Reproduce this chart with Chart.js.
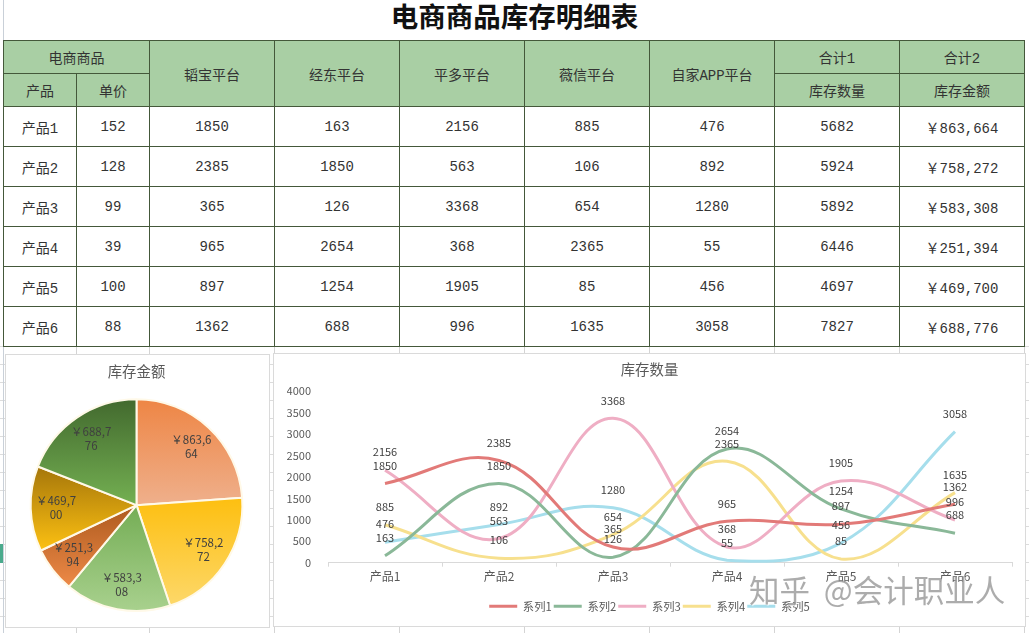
<!DOCTYPE html>
<html lang="zh">
<head>
<meta charset="utf-8">
<title>电商商品库存明细表</title>
<script src="https://cdn.jsdelivr.net/npm/chart.js@4/dist/chart.umd.min.js"></script>
<style>
html, body { margin: 0; padding: 0; background: #fff; }
body { position: relative; width: 1029px; height: 633px; overflow: hidden; }
#sheet { position: absolute; left: 0; top: 346px; width: 1029px; height: 287px;
    background-image: repeating-linear-gradient(to bottom, #dcdcdc 0, #dcdcdc 1px, transparent 1px, transparent 18px); }
.vline { position: absolute; top: 346px; height: 287px; width: 1px; background: #d4d4d4; }
#rowHeader { position: absolute; left: 3px; top: 0; width: 1px; height: 633px; background: #c9d0d8; }
#rowMark { position: absolute; left: 0; top: 544px; width: 3px; height: 19px; background: #4aaa8c; }
#title { position: absolute; left: 0; top: 0; width: 1029px; text-align: center;
    font: bold 27.5px/30px "Noto Sans CJK SC", sans-serif; color: #111; }
#stock { position: absolute; left: 3px; top: 40px; border-collapse: collapse; table-layout: fixed; width: 1021px;
    font: 14px "Liberation Mono", "Noto Sans CJK SC", monospace; color: #333; }
#stock td { border: 1.5px solid #44583a; text-align: center; padding: 0; background: #fff; }
#stock td.head { background: #a9cfa4; }
.box { position: absolute; background: #fff; border: 1px solid #dadada; box-sizing: border-box; }
#pieBox { left: 5px; top: 354px; width: 265px; height: 274px; }
#lineBox { left: 273px; top: 353px; width: 753px; height: 274px; }
#mark { position: absolute; left: 749px; top: 571px; font: 30.5px/36px "Noto Sans CJK SC", sans-serif; white-space: pre;
    word-spacing: 7px; color: rgba(140,140,140,.72); text-shadow: 1px 1px 1px rgba(255,255,255,.8); }
</style>
</head>
<body>
<div id="sheet"></div>
<div id="rowHeader"></div>
<div id="rowMark"></div>
<div id="title">电商商品库存明细表</div>
<table id="stock"></table>
<div class="box" id="pieBox"><canvas id="pieChart"></canvas></div>
<div class="box" id="lineBox"><canvas id="lineChart"></canvas></div>
<div id="mark">知乎 @会计职业人</div>

<script>
const products = ['产品1', '产品2', '产品3', '产品4', '产品5', '产品6'];
const prices = [152, 128, 99, 39, 100, 88];
const platforms = ['韬宝平台', '经东平台', '平多平台', '薇信平台', '自家APP平台'];
const taobaoStock = [1850, 2385, 365, 965, 897, 1362];
const jingdongStock = [163, 1850, 126, 2654, 1254, 688];
const pinduoStock = [2156, 563, 3368, 368, 1905, 996];
const weixinStock = [885, 106, 654, 2365, 85, 1635];
const appStock = [476, 892, 1280, 55, 456, 3058];
const totalQty = [5682, 5924, 5892, 6446, 4697, 7827];
const totalAmount = [863664, 758272, 583308, 251394, 469700, 688776];
const seriesNames = ['系列1', '系列2', '系列3', '系列4', '系列5'];
const seriesColors = ['#e27a78', '#8ab898', '#efaec4', '#f7e08e', '#a6deec'];
const yTicks = [0, 500, 1000, 1500, 2000, 2500, 3000, 3500, 4000];
const sliceTop = ['#ee8544', '#fdbf10', '#74ad55', '#ad5a1e', '#a5760a', '#42692e'];
const sliceBottom = ['#efb08c', '#fdd86a', '#a9d18e', '#ee8a48', '#fdc112', '#74b052'];

const GREY = '#595959';
const LABEL = '#404040';
const FONT = '"Noto Sans CJK SC", sans-serif';
const colWidths = [73, 73, 125, 125, 125, 125, 125, 125, 125];
const rowHeights = [33, 33, 40, 40, 40, 40, 40, 40];

function yen(v) {
    return '￥' + v.toLocaleString('en-US');
}

function buildTable() {
    const stock = [taobaoStock, jingdongStock, pinduoStock, weixinStock, appStock];
    let html = '<colgroup>' + colWidths.map(w => `<col style="width:${w}px">`).join('') + '</colgroup>';
    html += `<tr style="height:${rowHeights[0]}px"><td class="head" colspan="2">电商商品</td>`;
    platforms.forEach(p => { html += `<td class="head" rowspan="2">${p}</td>`; });
    html += '<td class="head">合计1</td><td class="head">合计2</td></tr>';
    html += `<tr style="height:${rowHeights[1]}px"><td class="head">产品</td><td class="head">单价</td>`;
    html += '<td class="head">库存数量</td><td class="head">库存金额</td></tr>';
    products.forEach((name, i) => {
        html += `<tr style="height:${rowHeights[i + 2]}px"><td>${name}</td><td>${prices[i]}</td>`;
        stock.forEach(s => { html += `<td>${s[i]}</td>`; });
        html += `<td>${totalQty[i]}</td><td>${yen(totalAmount[i])}</td></tr>`;
    });
    document.getElementById('stock').innerHTML = html;
}

function addGridColumns() {
    let x = 3;
    colWidths.forEach(w => {
        x += w;
        const line = document.createElement('div');
        line.className = 'vline';
        line.style.left = x + 'px';
        document.body.insertBefore(line, document.getElementById('rowHeader'));
    });
}

// each slice gets a top-to-bottom gradient over its own height
function sliceGradient(ctx) {
    const i = ctx.dataIndex;
    const area = ctx.chart.chartArea;
    if (!area) return sliceTop[i];
    const total = totalAmount.reduce((a, b) => a + b, 0);
    const before = totalAmount.slice(0, i).reduce((a, b) => a + b, 0);
    const start = before / total * Math.PI * 2 - Math.PI / 2;
    const end = (before + totalAmount[i]) / total * Math.PI * 2 - Math.PI / 2;
    const cy = (area.top + area.bottom) / 2;
    const r = (area.bottom - area.top) / 2;
    let minY = Math.min(cy, cy + r * Math.sin(start), cy + r * Math.sin(end));
    let maxY = Math.max(cy, cy + r * Math.sin(start), cy + r * Math.sin(end));
    if (start < Math.PI / 2 && end > Math.PI / 2) maxY = cy + r;
    if (start < -Math.PI / 2 || end > Math.PI * 1.5) minY = cy - r;
    const g = ctx.chart.ctx.createLinearGradient(0, minY, 0, maxY);
    g.addColorStop(0, sliceTop[i]);
    g.addColorStop(1, sliceBottom[i]);
    return g;
}

// no datalabels plugin in the sandbox, so the labels are drawn here
const lineLabels = {
    id: 'lineLabels',
    afterDatasetsDraw(chart) {
        const c = chart.ctx;
        c.save();
        c.font = '11px ' + FONT;
        c.fillStyle = LABEL;
        c.textAlign = 'center';
        c.textBaseline = 'middle';
        chart.data.datasets.forEach((ds, d) => {
            chart.getDatasetMeta(d).data.forEach((pt, i) => {
                c.fillText(ds.data[i], pt.x, pt.y - 18);
            });
        });
        c.restore();
    }
};

const pieLabels = {
    id: 'pieLabels',
    afterDatasetsDraw(chart) {
        const c = chart.ctx;
        c.save();
        c.font = '11.5px ' + FONT;
        c.fillStyle = LABEL;
        c.textAlign = 'center';
        c.textBaseline = 'middle';
        chart.getDatasetMeta(0).data.forEach((arc, i) => {
            const mid = (arc.startAngle + arc.endAngle) / 2;
            const x = arc.x + Math.cos(mid) * arc.outerRadius * 0.76;
            const y = arc.y + Math.sin(mid) * arc.outerRadius * 0.76;
            // the label wraps inside its box, as in the sheet
            const text = yen(totalAmount[i]);
            c.fillText(text.slice(0, 6), x, y - 7);
            c.fillText(text.slice(6), x, y + 7);
        });
        c.restore();
    }
};

function drawPie() {
    new Chart(document.getElementById('pieChart'), {
        type: 'pie',
        data: {
            labels: products,
            datasets: [{
                data: totalAmount,
                backgroundColor: sliceGradient,
                borderColor: '#fff9e8',
                borderWidth: 2
            }]
        },
        options: {
            responsive: true,
            maintainAspectRatio: false,
            animation: false,
            layout: { padding: { left: 0, right: 2, bottom: 15 } },
            plugins: {
                legend: { display: false },
                tooltip: { enabled: false },
                title: {
                    display: true,
                    text: '库存金额',
                    color: GREY,
                    font: { family: FONT, size: 14.4, weight: 'normal' },
                    padding: { top: 8, bottom: 18 }
                }
            }
        },
        plugins: [pieLabels]
    });
}

function drawLines() {
    const values = [taobaoStock, jingdongStock, pinduoStock, weixinStock, appStock];
    new Chart(document.getElementById('lineChart'), {
        type: 'line',
        data: {
            labels: products,
            datasets: values.map((v, i) => ({
                label: seriesNames[i],
                data: v,
                borderColor: seriesColors[i],
                backgroundColor: seriesColors[i],
                borderWidth: 3,
                tension: 0.4,
                pointRadius: 0,
                fill: false,
                clip: false
            }))
        },
        options: {
            responsive: true,
            maintainAspectRatio: false,
            animation: false,
            layout: { padding: { left: 13, right: 13, bottom: 4 } },
            scales: {
                x: {
                    offset: true,
                    grid: { offset: true, drawOnChartArea: false, color: '#d9d9d9', tickLength: 4 },
                    border: { color: '#d9d9d9' },
                    ticks: { color: GREY, font: { family: FONT, size: 12 }, padding: 3, maxRotation: 0 },
                    afterFit(scale) { scale.height = 36; }
                },
                y: {
                    min: 0,
                    max: 4000,
                    grid: { display: false },
                    border: { display: false },
                    afterBuildTicks(scale) { scale.ticks = yTicks.map(value => ({ value })); },
                    ticks: { color: GREY, font: { family: FONT, size: 11 }, padding: 9, callback: v => String(v) },
                    afterFit(scale) { scale.width = 41; }
                }
            },
            plugins: {
                tooltip: { enabled: false },
                title: {
                    display: true,
                    text: '库存数量',
                    color: GREY,
                    font: { family: FONT, size: 14.4, weight: 'normal' },
                    padding: { top: 7, bottom: 13 }
                },
                legend: {
                    position: 'bottom',
                    labels: {
                        usePointStyle: true,
                        pointStyle: 'line',
                        pointStyleWidth: 28,
                        boxHeight: 12,
                        padding: 2,
                        color: GREY,
                        font: { family: FONT, size: 11.3 }
                    }
                }
            }
        },
        plugins: [lineLabels]
    });
}

buildTable();
addGridColumns();
drawPie();
drawLines();
</script>
</body>
</html>
